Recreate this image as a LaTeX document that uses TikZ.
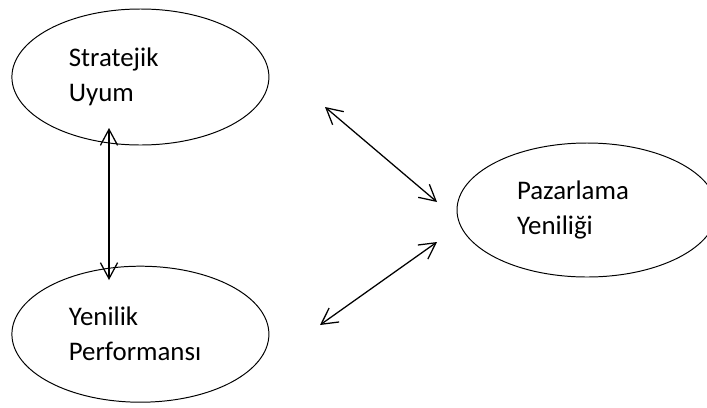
\documentclass[tikz,border=0pt]{standalone}
\usepackage{fontspec}
\setmainfont{Carlito}
\usetikzlibrary{shapes.geometric,arrows.meta}
\begin{document}
\begin{tikzpicture}
\tikzstyle{every node}=[font=\fontsize{19.1}{24.9}\selectfont]
\tikzstyle{concept}=[draw, ellipse, line width=0.7pt, inner sep=0pt, align=left]
\tikzstyle{link}=[{Straight Barb[length=4mm,width=4.3mm]}-{Straight Barb[length=4mm,width=4.3mm]}, line width=0.9pt]
\useasboundingbox (0,0) rectangle (17.675,10.175);

\node[concept, minimum width=6.425cm, minimum height=3.4cm, text width=3.575cm] (uyum) at (3.51,8.25) {Stratejik\\Uyum};
\node[concept, minimum width=6.425cm, minimum height=3.4cm, text width=3.575cm] (performans) at (3.51,1.82) {Yenilik\\Performans\i};
\node[concept, minimum width=6.5cm, minimum height=3.35cm, text width=3.5cm] (pazarlama) at (14.675,4.925) {Pazarlama\\Yenili\u{g}i};

%%%------------------------------------------------------------------------------------------------------------
\coordinate (uyumalt) at (2.725,6.975);
\coordinate (performansust) at (2.725,3.175);
\draw[link] (uyumalt)--(performansust);

\coordinate (ustsol) at (8.125,7.5);
\coordinate (ustsag) at (10.925,5.125);
\draw[link] (ustsol)--(ustsag);

\coordinate (altsag) at (10.925,4.125);
\coordinate (altsol) at (8.0,2.05);
\draw[link] (altsag)--(altsol);
\end{tikzpicture}
\end{document}
